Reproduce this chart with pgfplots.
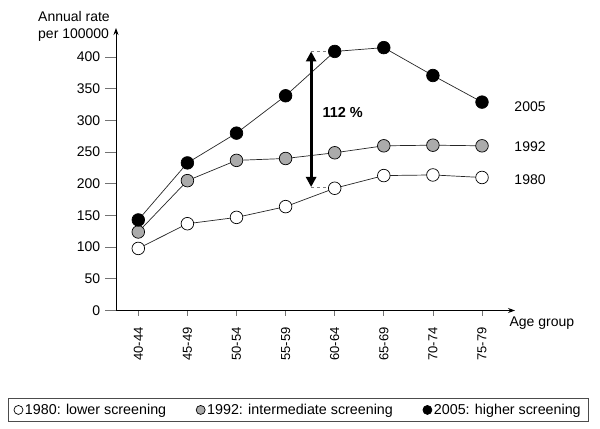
\documentclass[border=0pt]{standalone}
\usepackage{fontspec}
\setmainfont{Liberation Sans}
\usepackage{pgfplots}
\pgfplotsset{compat=1.18}
\usetikzlibrary{arrows.meta}
\definecolor{midgray}{gray}{0.67}
\definecolor{tickgray}{gray}{0.45}
\begin{document}
\begin{tikzpicture}[font=\fontsize{14bp}{16bp}\selectfont]
\path[use as bounding box] (0,0) rectangle (600bp,429bp);
\begin{axis}[
  at={(116bp,118.5bp)}, anchor=south west,
  scale only axis, width=399bp, height=282.5bp,
  xmin=-0.454, xmax=7.672, ymin=0, ymax=446,
  axis lines=left,
  axis line style={-{Stealth[length=7bp,width=5bp]}, line width=0.8bp},
  xtick={0,...,7},
  xticklabels={40-44,45-49,50-54,55-59,60-64,65-69,70-74,75-79},
  ytick={0,50,...,400},
  tick align=outside,
  xtick style={tickgray, line width=0.8bp, /pgfplots/major tick length=5bp},
  ytick style={tickgray, line width=0.8bp, /pgfplots/major tick length=11bp},
  xticklabel style={rotate=90, anchor=east, font=\fontsize{13bp}{15bp}\selectfont},
  xticklabel shift=9bp,
  yticklabel style={font=\fontsize{14bp}{16bp}\selectfont},
  yticklabel={\pgfmathprintnumber{\tick}\hspace*{8bp}},
  /pgf/number format/assume math mode=true,
  clip=false,
  legend columns=3,
  legend style={at={(0.457,-0.352)}, anchor=center, draw=black!70, line width=0.8bp,
    font=\fontsize{14.3bp}{16bp}\selectfont,
    /tikz/every even column/.append style={column sep=28bp},
    inner xsep=6bp, inner ysep=3.5bp},
  legend image code/.code={\draw[#1, mark size=4.5bp] plot coordinates {(0bp,0bp)};},
]
\addplot[black!85, line width=0.7bp, mark=*, mark size=6.3bp,
  mark options={fill=white, draw=black, line width=0.7bp}]
  coordinates {(0,98) (1,137) (2,147) (3,164) (4,193) (5,213) (6,214) (7,210)};
\addlegendentry{1980: lower screening}
\addplot[black!85, line width=0.7bp, mark=*, mark size=6.3bp,
  mark options={fill=midgray, draw=black, line width=0.7bp}]
  coordinates {(0,124) (1,205) (2,237) (3,240) (4,249) (5,260) (6,261) (7,260)};
\addlegendentry{1992: intermediate screening}
\addplot[black!85, line width=0.7bp, mark=*, mark size=6.3bp,
  mark options={fill=black, draw=black, line width=0.7bp}]
  coordinates {(0,143) (1,233) (2,280) (3,339) (4,409) (5,415) (6,371) (7,329)};
\addlegendentry{2005: higher screening}
% extension of x axis to the left
\draw[line width=0.8bp] (axis cs:-0.454,0) -- ++(-12bp,0);
% 112% arrow
\draw[gray, dashed, line width=0.7bp] (axis cs:3.52,409) -- (axis cs:4,409);
\draw[gray, dashed, line width=0.7bp] (axis cs:3.52,195) -- (axis cs:3.9,195);
\draw[line width=3bp, {Triangle[length=10bp,width=10bp]}-{Triangle[length=10bp,width=10bp]}]
  (axis cs:3.52,195) -- (axis cs:3.52,409);
\node[anchor=west, font=\fontsize{14.5bp}{16bp}\selectfont\bfseries] at (axis cs:3.68,312) {112 \%};
\node[anchor=west] at (axis cs:7.59,321.5) {2005};
\node[anchor=west] at (axis cs:7.59,258.4) {1992};
\node[anchor=west] at (axis cs:7.59,206) {1980};
\node[anchor=west] at (axis cs:7.49,-19.7) {Age group};
\end{axis}
\node[anchor=base west, inner sep=0pt] at (38bp,407bp) {Annual rate};
\node[anchor=base west, inner sep=0pt] at (38bp,390bp) {per 100000};
\end{tikzpicture}
\end{document}
